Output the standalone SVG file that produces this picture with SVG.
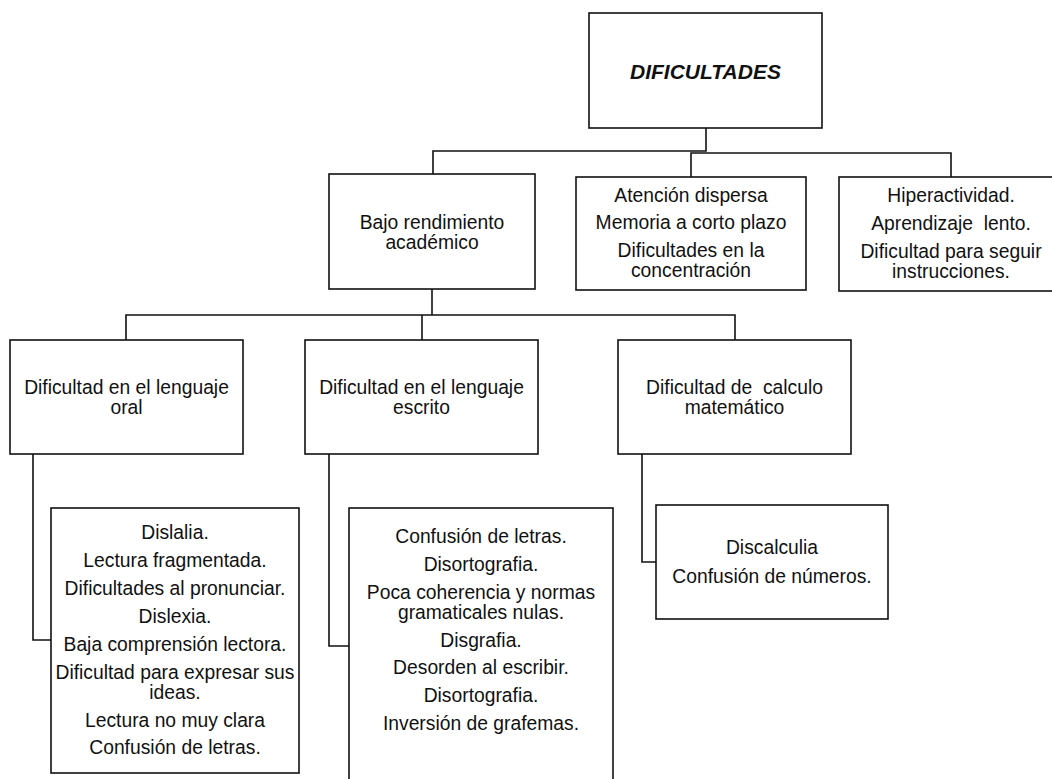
<svg xmlns="http://www.w3.org/2000/svg" width="1052" height="779" viewBox="0 0 1052 779">
<style>
.box{fill:#fff;stroke:#111;stroke-width:1.6}
.ln{fill:none;stroke:#111;stroke-width:1.6}
text{font-family:"Liberation Sans",Arial,sans-serif;font-size:19.3px;fill:#111;text-anchor:middle}
.title{font-weight:bold;font-style:italic;font-size:21px}
</style>
<rect x="0" y="0" width="1052" height="779" fill="#fff"/>
<g id="connectors">
<path class="ln" d="M706 128V151H433V174"/>
<path class="ln" d="M691 177V153H951V177"/>
<path class="ln" d="M432 289V315"/>
<path class="ln" d="M126 340V315H735V340"/>
<path class="ln" d="M422 315V340"/>
<path class="ln" d="M33 454V640H51"/>
<path class="ln" d="M329 454V646H349"/>
<path class="ln" d="M642 454V562H656"/>
</g>
<g id="dificultades">
<rect class="box" x="589" y="13" width="233" height="115"/>
<text class="title" x="705.5" y="79">DIFICULTADES</text>
</g>
<g id="bajo">
<rect class="box" x="329" y="174" width="206" height="115"/>
<text x="432" y="229">Bajo rendimiento</text>
<text x="432" y="249">académico</text>
</g>
<g id="atencion">
<rect class="box" x="576" y="177" width="230" height="113"/>
<text x="691" y="202">Atención dispersa</text>
<text x="691" y="229">Memoria a corto plazo</text>
<text x="691" y="257">Dificultades en la</text>
<text x="691" y="277">concentración</text>
</g>
<g id="hiperactividad">
<rect class="box" x="839" y="177" width="224" height="114"/>
<text x="951" y="202">Hiperactividad.</text>
<text x="951" y="230" xml:space="preserve">Aprendizaje  lento.</text>
<text x="951" y="258">Dificultad para seguir</text>
<text x="951" y="278">instrucciones.</text>
</g>
<g id="oral">
<rect class="box" x="10" y="340" width="233" height="114"/>
<text x="126.5" y="394">Dificultad en el lenguaje</text>
<text x="126.5" y="414">oral</text>
</g>
<g id="escrito">
<rect class="box" x="305" y="340" width="233" height="114"/>
<text x="421.5" y="394">Dificultad en el lenguaje</text>
<text x="421.5" y="414">escrito</text>
</g>
<g id="calculo">
<rect class="box" x="618" y="340" width="233" height="114"/>
<text x="734.5" y="394" xml:space="preserve">Dificultad de  calculo</text>
<text x="734.5" y="414">matemático</text>
</g>
<g id="oral-detalle">
<rect class="box" x="51" y="508" width="248" height="265"/>
<text x="175" y="539">Dislalia.</text>
<text x="175" y="567">Lectura fragmentada.</text>
<text x="175" y="595">Dificultades al pronunciar.</text>
<text x="175" y="623">Dislexia.</text>
<text x="175" y="651">Baja comprensión lectora.</text>
<text x="175" y="679">Dificultad para expresar sus</text>
<text x="175" y="699">ideas.</text>
<text x="175" y="727">Lectura no muy clara</text>
<text x="175" y="754">Confusión de letras.</text>
</g>
<g id="escrito-detalle">
<rect class="box" x="349" y="508" width="264" height="290"/>
<text x="481" y="543">Confusión de letras.</text>
<text x="481" y="571">Disortografia.</text>
<text x="481" y="599">Poca coherencia y normas</text>
<text x="481" y="619">gramaticales nulas.</text>
<text x="481" y="647">Disgrafia.</text>
<text x="481" y="674">Desorden al escribir.</text>
<text x="481" y="702">Disortografia.</text>
<text x="481" y="730">Inversión de grafemas.</text>
</g>
<g id="calculo-detalle">
<rect class="box" x="656" y="505" width="232" height="114"/>
<text x="772" y="554">Discalculia</text>
<text x="772" y="583">Confusión de números.</text>
</g>
</svg>
